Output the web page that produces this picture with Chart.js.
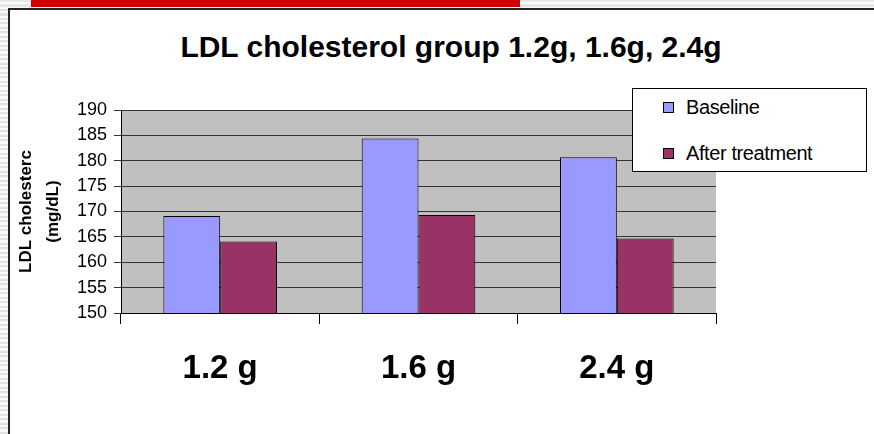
<!DOCTYPE html>
<html>
<head>
<meta charset="utf-8">
<script src="https://cdn.jsdelivr.net/npm/chart.js@4"></script>
<style>
  html, body { margin: 0; padding: 0; background: #fff; }
  body { width: 874px; height: 434px; position: relative; overflow: hidden; font-family: "Liberation Sans", Arial, sans-serif; }
  .stripes-left { position: absolute; left: 0; top: 0; width: 8px; height: 434px;
    background: repeating-linear-gradient(to bottom, #e2e2e2 0px, #e2e2e2 2px, #fafafa 2px, #fafafa 4.5px); }
  .stripes-top { position: absolute; left: 0; top: 0; width: 874px; height: 8px;
    background: repeating-linear-gradient(to bottom, #e6e6e6 0px, #e6e6e6 2px, #fafafa 2px, #fafafa 4.5px); }
  .redbar { position: absolute; left: 31px; top: 0; width: 489px; height: 7px; background: #cc0000; }
  .frame { position: absolute; left: 8px; top: 8px; width: 866px; height: 426px; background: #fff;
    border-left: 2px solid #222; border-top: 2px solid #222; box-sizing: border-box; }
  #title { position: absolute; left: 0; width: 902px; top: 30px; text-align: center;
    font-weight: bold; font-size: 30px; color: #000; line-height: 34px; }
  canvas { position: absolute; left: 0; top: 0; }
  #legend { position: absolute; left: 632px; top: 88px; width: 235px; height: 84px; box-sizing: border-box;
    border: 1px solid #000; background: #fff; }
  .item { position: absolute; left: 30px; height: 24px; font-size: 20px; line-height: 24px; color: #000; white-space: nowrap; letter-spacing: -0.4px; }
  .item .sw { position: absolute; left: 0; top: 7px; width: 9px; height: 9px; border: 1px solid #000; }
  .item .tx { position: absolute; left: 23px; top: 0; }
</style>
</head>
<body>
<div class="stripes-left"></div>
<div class="stripes-top"></div>
<div class="redbar"></div>
<div class="frame"></div>
<div id="title">LDL cholesterol group 1.2g, 1.6g, 2.4g</div>
<canvas id="c" width="874" height="434"></canvas>
<div id="legend"></div>
<script>
const categories = ['1.2 g', '1.6 g', '2.4 g'];
const seriesNames = ['Baseline', 'After treatment'];
const baseline = [169.1, 184.4, 180.7];
const afterTreatment = [164.1, 169.3, 164.7];
const yTickMin = 150;
const yTickMax = 190;
const yTickStep = 5;
const yTitle = ['LDL cholesterc', '(mg/dL)'];

const plotBg = {
  id: 'plotBg',
  beforeDraw(chart) {
    const a = chart.chartArea;
    const ctx = chart.ctx;
    ctx.save();
    ctx.fillStyle = '#c0c0c0';
    ctx.fillRect(a.left, a.top, a.right - a.left, a.bottom - a.top);
    ctx.restore();
  }
};

const chart = new Chart(document.getElementById('c'), {
  type: 'bar',
  data: {
    labels: categories,
    datasets: [
      { label: seriesNames[0], data: baseline, backgroundColor: '#9999ff', borderColor: '#000', borderWidth: 1, borderSkipped: false },
      { label: seriesNames[1], data: afterTreatment, backgroundColor: '#993366', borderColor: '#000', borderWidth: 1, borderSkipped: false }
    ]
  },
  options: {
    responsive: false,
    animation: false,
    devicePixelRatio: 1,
    layout: { padding: { left: 10, top: 110, right: 158, bottom: 41 } },
    datasets: { bar: { categoryPercentage: 0.573, barPercentage: 1.0 } },
    plugins: {
      legend: { display: false },
      title: { display: false },
      tooltip: { enabled: false }
    },
    scales: {
      x: {
        offset: true,
        afterFit(scale) { scale.height = 80; },
        grid: { offset: true, drawOnChartArea: false, drawTicks: true, tickLength: 11, color: '#000', lineWidth: 1 },
        border: { display: true, color: '#000', width: 1 },
        ticks: { color: '#000', padding: 25, maxRotation: 0, font: { family: '"Liberation Sans", Arial, sans-serif', size: 33, weight: 'bold' } }
      },
      y: {
        min: yTickMin,
        max: yTickMax,
        afterFit(scale) { scale.width = 111; },
        grid: { color: '#333', lineWidth: 1, tickLength: 7, drawTicks: true },
        border: { display: true, color: '#000', width: 1 },
        ticks: { stepSize: yTickStep, color: '#000', padding: 7, font: { family: '"Liberation Sans", Arial, sans-serif', size: 18 } },
        title: { display: true, text: yTitle, color: '#000', padding: { top: 3, bottom: 0 },
          font: { family: '"Liberation Sans", Arial, sans-serif', size: 17, weight: 'bold', lineHeight: 1.6 } }
      }
    }
  },
  plugins: [plotBg]
});

// HTML legend built from the chart's datasets
const legendEl = document.getElementById('legend');
chart.data.datasets.forEach((ds, i) => {
  const item = document.createElement('div');
  item.className = 'item';
  item.style.top = (6 + i * 46) + 'px';
  const sw = document.createElement('span');
  sw.className = 'sw';
  sw.style.background = ds.backgroundColor;
  const tx = document.createElement('span');
  tx.className = 'tx';
  tx.textContent = ds.label;
  item.appendChild(sw);
  item.appendChild(tx);
  legendEl.appendChild(item);
});
</script>
</body>
</html>
